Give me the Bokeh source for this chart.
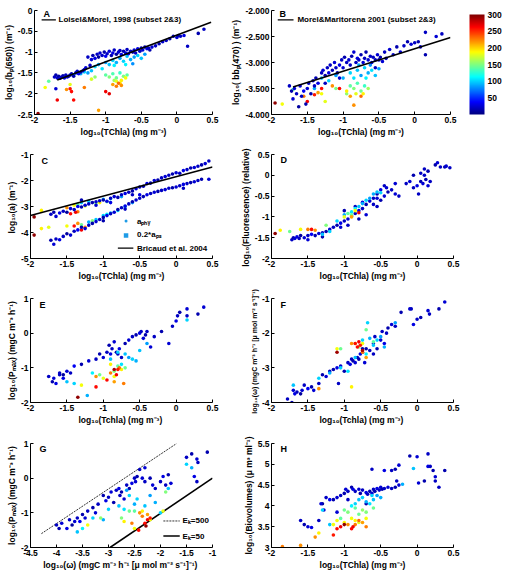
from bokeh.plotting import figure
from bokeh.models import (LinearColorMapper, ColorBar, FixedTicker, Label, ColumnDataSource,
                          Range1d, CustomJSTickFormatter)
from bokeh.layouts import row, column
from bokeh.embed import file_html
from bokeh.resources import INLINE

# ---------------- data ----------------
TCHLA_TICKS = [-2, -1.5, -1, -0.5, 0, 0.5]
CBAR_TICKS = [50, 100, 150, 200, 250, 300]
CBAR_LOW, CBAR_HIGH = 0, 300

# Panel A : log10(bp(650)) vs log10(TChla)
A_blue_x = [-1.72,-1.70,-1.68,-1.66,-1.64,-1.62,-1.60,-1.58,-1.56,-1.54,
            -1.52,-1.50,-1.48,-1.45,-1.42,-1.40,-1.38,-1.35,-1.32,-1.30,
            -1.70,-1.28,-1.22,-1.25,-1.20,-1.18,-1.15,-1.12,-1.10,-1.08,
            -1.05,-1.02,-1.00,-0.98,-0.95,-0.92,-0.90,-0.88,-0.85,-0.82,
            -0.80,-0.78,-0.75,-0.72,-0.70,-0.68,-0.65,-0.62,-0.60,-0.58,
            -0.55,-0.52,-0.50,-0.48,-0.45,-0.42,-0.40,-0.38,-0.35,-0.30,
            -0.25,-0.20,-0.15,-0.10,-0.05,0.00,0.02,0.05,0.10,0.15,
            0.30,0.38]
A_blue_y = [-1.60,-1.55,-1.62,-1.58,-1.63,-1.60,-1.57,-1.62,-1.55,-1.60,
            -1.58,-1.55,-1.52,-1.58,-1.50,-1.46,-1.52,-1.48,-1.45,-1.42,
            -1.88,-1.38,-1.32,-1.12,-1.18,-1.08,-1.15,-1.05,-1.12,-1.02,
            -1.08,-1.00,-1.10,-1.04,-0.98,-1.08,-1.02,-0.95,-1.05,-1.00,
            -0.96,-1.06,-0.98,-1.02,-0.94,-1.04,-0.98,-1.00,-0.95,-1.02,
            -0.92,-0.98,-0.90,-0.95,-0.88,-0.92,-0.90,-0.95,-0.88,-0.85,
            -0.80,-0.75,-0.72,-0.68,-0.62,-0.65,-0.60,-0.62,-0.60,-0.86,
            -0.55,-0.45]
A_blue_c = [20,15,25,10,30,20,15,35,20,25,
            10,30,20,15,25,20,35,15,20,30,
            25,25,20,20,25,15,30,20,10,25,
            20,15,35,20,25,15,30,20,10,25,
            20,30,15,25,20,35,20,15,25,20,
            30,20,15,25,20,30,20,15,25,20,
            15,25,20,15,20,25,15,20,30,20,
            15,20]
A_col_x = [-1.35,-1.30,-1.25,-1.20,-1.15,-1.10,-1.05,-1.00,-0.95,-0.90,
           -0.85,-0.80,-0.75,-0.70,-0.65,-0.60,-0.55,-0.50,-0.62,-0.72,
           -0.45,-0.88,-1.45,
           -1.80,-1.00,-0.95,-0.90,-0.85,-0.80,-0.75,-0.70,-1.15,-0.88,
           -1.85,-1.50,-0.85,-0.78,-0.72,-0.80,-1.20,
           -1.55,-0.90,-0.85,-0.82,-0.78,-1.10,-1.30,
           -1.68,-1.45,-1.50,-1.00,-0.95,-1.48,
           -1.95]
A_col_y = [-1.52,-1.48,-1.50,-1.45,-1.35,-1.30,-1.40,-1.25,-1.30,-1.20,
           -1.25,-1.15,-1.22,-1.10,-1.18,-1.12,-1.08,-1.15,-1.28,-1.30,
           -1.05,-1.32,-1.55,
           -1.70,-1.55,-1.60,-1.52,-1.62,-1.50,-1.58,-1.55,-1.60,-1.68,
           -1.85,-1.78,-1.70,-1.68,-1.62,-1.75,-1.65,
           -1.90,-1.78,-1.82,-1.75,-1.80,-2.40,-1.85,
           -2.15,-2.15,-1.88,-1.95,-2.00,-1.95,
           -2.48]
A_col_c = [90,100,85,95,100,90,105,85,95,100,
           90,85,100,95,90,85,100,95,80,110,
           85,110,80,
           140,140,150,135,145,130,150,140,155,160,
           185,180,180,190,185,195,175,
           220,215,225,230,220,215,225,
           265,260,255,265,270,260,
           295]
A_line_x = [-1.68, 0.48]
A_line_y = [-1.67, -0.28]

# Panel B : log10(bbp(470)) vs log10(TChla)
B_blue_x = [-1.75,-1.72,-1.70,-1.68,-1.65,-1.62,-1.60,-1.58,-1.55,-1.52,
            -1.50,-1.48,-1.45,-1.42,-1.40,-1.38,-1.35,-1.30,-1.28,-1.25,
            -1.22,-1.20,-1.18,-1.15,-1.12,-1.10,-1.08,-1.05,-1.02,-1.00,
            -0.98,-0.95,-0.92,-0.90,-0.88,-0.85,-0.82,-0.80,-0.78,-0.75,
            -0.72,-0.70,-0.68,-0.65,-0.62,-0.60,-0.58,-0.55,-0.52,-0.50,
            -0.48,-0.45,-0.42,-0.40,-0.35,-0.30,-0.25,-0.20,-0.15,-0.10,
            -0.05,0.00,0.05,0.08,0.15,0.15,0.30,0.38,-0.55,-1.05,
            -1.25]
B_blue_y = [-3.45,-3.55,-3.70,-3.50,-3.60,-3.85,-3.45,-3.65,-3.55,-3.80,
            -3.50,-3.40,-3.60,-3.35,-3.45,-3.30,-3.40,-3.20,-3.15,-3.25,
            -3.10,-3.20,-3.05,-3.15,-3.00,-3.10,-3.20,-3.05,-2.95,-3.10,
            -2.90,-3.00,-2.95,-3.05,-2.88,-2.80,-3.00,-2.92,-2.95,-2.85,
            -3.00,-2.92,-2.80,-2.95,-2.88,-3.00,-2.90,-2.95,-2.85,-2.95,
            -2.90,-2.98,-2.80,-2.92,-2.75,-2.85,-2.70,-2.80,-2.68,-2.60,
            -2.65,-2.62,-2.60,-2.70,-2.42,-2.85,-2.50,-2.45,-3.10,-3.30,
            -3.40]
B_blue_c = [20,15,25,30,20,10,25,20,35,15,
            25,20,15,25,20,15,30,20,25,15,
            20,30,20,15,25,20,15,30,20,25,
            15,20,25,20,15,25,20,30,20,15,
            25,20,15,25,20,30,20,15,25,20,
            15,25,20,15,25,20,15,25,20,15,
            25,20,15,25,20,15,25,20,20,25,
            20]
B_col_x = [-1.40,-1.30,-1.20,-1.10,-1.00,-0.90,-0.80,-0.75,-0.70,-0.65,
           -0.60,-0.55,-0.50,-0.68,-0.85,-0.62,-0.78,
           -1.70,-0.90,-0.85,-0.80,-0.75,-0.70,-0.95,-1.10,-0.65,
           -1.85,-1.25,-0.95,-0.82,-1.30,-0.72,
           -0.85,-1.55,-1.35,-0.75,-1.15,-0.90,
           -1.50,-1.05,-1.40,-1.30,
           -1.95]
B_col_y = [-3.50,-3.30,-3.35,-3.25,-3.30,-3.20,-3.15,-3.25,-3.10,-3.20,
           -3.15,-3.25,-3.12,-3.30,-3.30,-3.05,-3.05,
           -3.52,-3.45,-3.50,-3.40,-3.55,-3.45,-3.60,-3.50,-3.50,
           -3.80,-3.75,-3.55,-3.60,-3.60,-3.60,
           -3.82,-3.65,-3.58,-3.65,-3.45,-3.65,
           -3.75,-3.50,-3.62,-3.50,
           -3.78]
B_col_c = [90,95,100,85,90,100,95,85,100,90,
           105,95,85,110,105,80,90,
           140,140,150,135,145,130,155,150,160,
           185,180,190,180,185,190,
           220,225,215,230,220,215,
           265,260,255,260,
           295]
B_line_x = [-1.70, 0.50]
B_line_y = [-3.47, -2.52]

# Panel C : log10(a) vs log10(TChla)   (a_phy band and 0.2*a_ps band)
C_phy_blue_x = [-1.72,-1.68,-1.65,-1.60,-1.55,-1.50,-1.45,-1.40,-1.35,-1.30,
                -1.25,-1.20,-1.15,-1.10,-1.05,-1.00,-0.95,-0.90,-0.85,-0.80,
                -0.75,-0.70,-0.65,-0.60,-0.55,-0.50,-0.45,-0.40,-0.35,-0.30,
                -0.25,-0.20,-0.15,-0.10,-0.05,0.00,0.05,0.10,0.15,0.20,
                0.25,0.30,0.35,0.40,0.45,-0.90,-0.60,-1.30,-1.10]
C_phy_blue_y = [-3.30,-3.22,-3.38,-3.25,-3.18,-3.22,-3.08,-3.12,-3.00,-3.02,
                -2.95,-2.90,-2.85,-2.82,-2.78,-2.75,-2.80,-2.68,-2.62,-2.65,
                -2.55,-2.50,-2.45,-2.40,-2.32,-2.25,-2.22,-2.12,-2.10,-2.00,
                -1.98,-1.90,-1.85,-1.80,-1.75,-1.70,-1.72,-1.62,-1.58,-1.52,
                -1.50,-1.45,-1.40,-1.35,-1.25,-2.85,-2.55,-2.75,-2.95]
C_phy_blue_c = [20,15,25,30,20,10,25,20,35,15,
                25,20,15,25,20,15,30,20,25,15,
                20,30,20,15,25,20,15,30,20,25,
                15,20,25,20,15,25,20,30,20,15,
                25,20,15,25,20,30,20,15,25]
C_phy_col_x = [-1.30,-1.20,-1.00,-0.90,-0.75,
               -1.35,-1.10,-0.95,
               -1.85,-1.40,-1.25,-1.05,
               -1.50,-1.35,
               -1.45,-1.38,
               -1.95]
C_phy_col_y = [-2.85,-2.80,-2.72,-2.70,-2.62,
               -2.92,-2.88,-2.82,
               -3.15,-2.95,-2.98,-2.85,
               -3.05,-3.20,
               -3.28,-3.22,
               -3.40]
C_phy_col_c = [95,100,90,105,85,
               140,150,145,
               190,185,180,190,
               220,225,
               260,265,
               295]
C_aps_blue_x = [-1.72,-1.68,-1.65,-1.60,-1.55,-1.50,-1.45,-1.40,-1.35,-1.30,
                -1.25,-1.20,-1.15,-1.10,-1.05,-1.00,-0.95,-0.90,-0.85,-0.80,
                -0.75,-0.70,-0.65,-0.60,-0.55,-0.50,-0.45,-0.40,-0.35,-0.30,
                -0.25,-0.20,-0.15,-0.10,-0.05,0.00,0.05,0.10,0.15,0.20,
                0.25,0.30,0.35,0.45,0.10,-0.50,-0.70,-1.00]
C_aps_blue_y = [-4.30,-4.45,-4.25,-4.28,-4.15,-4.05,-4.10,-3.95,-3.90,-3.80,
                -3.85,-3.72,-3.65,-3.58,-3.50,-3.42,-3.35,-3.28,-3.22,-3.12,
                -3.05,-2.98,-2.90,-2.82,-2.75,-2.68,-2.62,-2.55,-2.50,-2.45,
                -2.42,-2.38,-2.35,-2.30,-2.28,-2.25,-2.20,-2.15,-2.12,-2.08,
                -2.05,-2.00,-1.95,-1.95,-2.30,-2.55,-3.10,-3.55]
C_aps_blue_c = [15,25,20,30,20,10,25,20,35,15,
                25,20,15,25,20,15,30,20,25,15,
                20,30,20,15,25,20,15,30,20,25,
                15,20,25,20,15,25,20,30,20,15,
                25,20,15,25,20,30,20,15]
C_aps_col_x = [-1.10,-1.00,-0.90,-0.80,-0.70,-0.60,-0.95,-1.20,
               -1.30,-1.15,
               -1.85,-1.50,-1.75,
               -1.35,-1.25,
               -1.40,-1.30,
               -1.95]
C_aps_col_y = [-3.50,-3.35,-3.25,-3.15,-3.00,-2.85,-3.30,-3.60,
               -3.70,-3.55,
               -3.85,-3.75,-3.80,
               -3.65,-3.80,
               -3.75,-3.90,
               -4.10]
C_aps_col_c = [95,100,90,105,95,85,110,90,
               145,150,
               190,185,180,
               220,225,
               260,265,
               295]
C_line_x = [-2.00, 0.50]
C_line_y = [-3.35, -1.48]

# Panel D : log10(Fluorescence) vs log10(TChla)
D_blue_x = [-1.72,-1.70,-1.68,-1.65,-1.62,-1.60,-1.55,-1.50,-1.45,-1.40,
            -1.35,-1.30,-1.25,-1.20,-1.15,-1.10,-1.05,-1.00,-0.95,-0.90,
            -0.85,-0.80,-0.75,-0.70,-0.65,-0.60,-0.55,-0.50,-0.45,-0.42,
            -0.40,-0.35,-0.30,-0.25,-0.50,-0.55,-0.60,-0.75,-0.85,-1.00,
            -1.05,-0.95,-0.80,-0.70,-0.05,0.00,0.02,0.05,0.08,0.10,
            0.12,0.15,0.18,-0.05,-0.10,0.05,0.25,0.28,0.32,0.38,
            0.40,0.45,0.15,-0.45,-0.55,-1.30,-1.50,0.10,-0.15,-0.30]
D_blue_y = [-1.55,-1.50,-1.52,-1.48,-1.52,-1.45,-1.50,-1.45,-1.42,-1.45,
            -1.40,-1.38,-1.35,-1.30,-1.25,-1.20,-1.15,-1.10,-1.05,-0.98,
            -0.92,-0.85,-0.80,-0.70,-0.62,-0.55,-0.45,-0.35,-0.25,-0.30,
            -0.40,-0.35,-0.45,-0.50,-0.60,-0.55,-0.70,-0.65,-0.75,-0.85,
            -1.25,-1.20,-1.05,-0.95,-0.30,-0.25,-0.45,-0.15,-0.20,0.15,
            -0.10,-0.25,-0.15,0.00,-0.15,0.05,0.25,0.30,0.20,0.20,
            0.22,0.18,0.10,-0.50,-0.75,-1.48,-1.55,0.00,-0.20,-0.20]
D_blue_c = [20,15,25,30,20,10,25,20,35,15,
            25,20,15,25,20,15,30,20,25,15,
            20,30,20,15,25,20,15,30,20,25,
            15,20,25,20,15,25,20,30,20,15,
            25,20,15,25,20,30,20,15,25,20,
            15,25,20,15,25,20,15,25,20,15,
            25,20,15,25,20,15,25,20,20,25]
D_col_x = [-1.30,-1.20,-1.00,-0.90,-0.80,-0.70,-0.65,-0.60,-0.55,-0.50,-0.85,-1.10,-0.75,
           -1.75,-1.25,-0.95,-0.90,
           -1.88,-1.60,-1.00,-0.85,
           -1.50,-1.40,-0.90,
           -1.45,-0.80,
           -1.95]
D_col_y = [-1.42,-1.35,-0.95,-0.88,-0.75,-0.60,-0.55,-0.45,-0.40,-0.42,-0.80,-1.10,-0.68,
           -1.35,-1.20,-0.92,-0.95,
           -1.32,-1.30,-1.00,-0.85,
           -1.30,-1.32,-1.00,
           -1.30,-0.90,
           -1.40]
D_col_c = [95,100,90,105,95,100,85,90,95,100,110,100,90,
           145,150,140,145,
           190,185,180,190,
           225,220,215,
           260,265,
           295]

# Panel E : log10(Pmax) vs log10(TChla)
E_blue_x = [-1.75,-1.70,-1.68,-1.65,-1.60,-1.55,-1.50,-1.45,-1.40,-1.30,
            -1.20,-1.10,-1.05,-1.00,-0.95,-0.92,-0.90,-0.88,-0.85,-0.82,
            -0.80,-0.78,-0.75,-0.70,-0.65,-0.60,-0.55,-0.50,-0.48,-0.45,
            -0.42,-0.40,-0.35,-0.30,-0.20,-0.10,-0.05,0.00,0.02,0.05,
            0.15,0.15,0.30,0.38,-1.60,-1.55]
E_blue_y = [-1.25,-1.40,-1.30,-1.45,-1.15,-1.20,-1.10,-1.15,-0.95,-0.90,
            -0.80,-0.75,-0.60,-0.70,-0.55,-0.35,-0.60,-0.45,-0.25,-0.55,
            -0.60,-0.45,-0.70,-0.30,-0.20,-0.10,-0.05,0.00,0.05,-0.15,
            -0.05,0.05,-0.40,-0.10,0.05,-0.30,0.20,0.35,0.50,0.60,
            0.70,0.50,0.55,0.75,-1.20,-1.30]
E_blue_c = [20,15,25,30,20,10,25,20,35,15,
            25,20,15,25,20,15,30,20,25,15,
            20,30,20,15,25,20,15,30,20,25,
            15,20,25,20,15,25,20,30,20,15,
            25,20,15,25,20,30]
E_col_x = [-1.50,-1.40,-1.22,-0.80,-0.70,-0.65,-0.60,-0.55,-0.75,-0.50,0.15,-1.15,-0.90,-0.40,
           -1.05,-0.85,-0.80,-0.70,
           -1.30,-0.90,-0.85,-1.00,-0.75,
           -1.10,-0.90,-0.85,-0.72,-0.78,
           -1.10,-0.82,-0.95,-0.80,
           -1.35,-0.85]
E_col_y = [-1.40,-1.45,-1.80,-0.55,-0.60,-0.70,-0.75,-0.80,-0.90,-0.50,0.38,-1.15,-0.75,-0.30,
           -1.20,-1.10,-0.95,-1.00,
           -1.50,-0.90,-1.25,-1.30,-1.05,
           -1.25,-1.15,-1.40,-1.45,-1.00,
           -1.55,-1.20,-1.35,-1.05,
           -1.85,-1.05]
E_col_c = [95,100,90,100,95,85,100,90,105,95,100,110,95,85,
           145,150,140,145,
           185,190,185,180,190,
           220,225,215,225,230,
           260,265,260,255,
           295,285]

# Panel F : log10(omega) vs log10(TChla)
F_blue_x = [-1.78,-1.72,-1.70,-1.68,-1.65,-1.60,-1.58,-1.55,-1.50,-1.45,
            -1.42,-1.35,-1.30,-1.25,-1.20,-1.15,-1.10,-1.08,-1.05,-1.00,
            -0.95,-0.92,-0.90,-0.88,-0.85,-0.82,-0.80,-0.78,-0.75,-0.72,
            -0.70,-0.65,-0.60,-0.58,-0.55,-0.50,-0.48,-0.45,-0.42,-0.40,
            -0.35,-0.30,-0.22,-0.10,-0.08,-0.05,0.00,0.05,0.15,0.17,
            0.30,0.38,-0.60,-0.75]
F_blue_y = [-3.90,-4.00,-3.65,-3.75,-3.70,-3.75,-3.65,-3.50,-3.60,-3.55,
            -3.65,-3.45,-3.20,-3.25,-3.10,-3.05,-3.00,-3.45,-2.95,-3.10,
            -2.85,-2.90,-2.75,-2.80,-2.85,-2.70,-2.75,-2.60,-2.55,-2.85,
            -2.45,-2.50,-2.30,-2.10,-2.45,-2.20,-1.95,-2.30,-2.00,-1.85,
            -1.75,-1.80,-1.40,-1.30,-1.30,-1.75,-1.60,-1.55,-1.35,-1.45,
            -1.30,-1.10,-2.60,-2.45]
F_blue_c = [20,15,25,30,20,10,25,20,35,15,
            25,20,15,25,20,15,30,20,25,15,
            20,30,20,15,25,20,15,30,20,25,
            15,20,25,20,15,25,20,30,20,15,
            25,20,15,25,20,30,20,15,25,20,
            15,25,20,15]
F_col_x = [-1.70,-1.35,-1.20,-1.05,-0.95,-0.85,-0.68,-0.65,-0.60,-0.55,-0.50,-0.70,-0.45,-0.75,-0.30,
           -0.70,-0.80,-0.60,-1.05,
           -0.90,-1.10,-0.85,-0.75,
           -0.90,-0.75,-0.70,-1.35,
           -0.85,-0.80,-0.78,-0.82,
           -1.10,-0.75]
F_col_y = [-3.50,-3.30,-3.15,-3.00,-3.10,-2.70,-1.70,-2.15,-2.35,-2.20,-2.10,-2.60,-2.40,-2.20,-1.70,
           -1.90,-2.40,-2.25,-2.45,
           -3.55,-2.45,-2.30,-2.30,
           -2.30,-2.55,-2.70,-3.60,
           -2.30,-2.25,-2.35,-2.40,
           -2.55,-2.50]
F_col_c = [95,100,90,100,105,95,100,90,95,100,85,110,90,100,85,
           145,150,140,145,
           190,185,190,185,
           220,225,215,220,
           260,265,255,260,
           290,285]

# Panel G : log10(Pmax) vs log10(omega)
G_blue_x = [-4.00,-3.95,-3.90,-3.80,-3.75,-3.70,-3.65,-3.60,-3.55,-3.50,
            -3.45,-3.40,-3.30,-3.25,-3.20,-3.10,-3.05,-3.00,-2.95,-2.90,
            -2.85,-2.80,-2.78,-2.75,-2.70,-2.65,-2.60,-2.55,-2.50,-2.48,
            -2.45,-2.40,-2.35,-2.30,-2.20,-2.15,-2.10,-1.95,-1.90,-1.85,
            -1.80,-1.50,-1.40,-1.30,-1.28,-1.35,-1.30,-1.10,-2.30,-2.00]
G_blue_y = [-1.35,-1.45,-1.30,-1.45,-1.20,-1.35,-1.25,-1.15,-1.25,-1.05,
            -1.15,-0.95,-0.85,-1.00,-0.75,-0.50,-0.65,-0.55,-0.40,-0.70,
            -0.35,-0.30,-0.50,-0.40,-0.60,-0.20,-0.30,-0.15,0.00,-0.10,
            0.05,0.25,0.00,-0.10,0.00,-0.20,-0.30,0.05,-0.20,0.10,
            -0.15,0.60,0.70,0.55,0.45,0.05,-0.10,0.75,0.30,-0.10]
G_blue_c = [20,15,25,30,20,10,25,20,35,15,
            25,20,15,25,20,15,30,20,25,15,
            20,30,20,15,25,20,15,30,20,25,
            15,20,25,20,15,25,20,30,20,15,
            25,20,15,25,20,30,20,15,25,20]
G_col_x = [-3.60,-3.30,-3.10,-3.00,-2.80,-2.70,-2.50,-2.45,-2.30,-2.20,-2.60,-1.50,-1.40,-1.85,-2.00,-2.10,-3.50,-2.65,
           -2.60,-2.75,-2.50,-3.15,-1.90,
           -2.70,-2.50,-2.35,-3.40,-1.95,-2.20,
           -2.40,-2.35,-2.25,-2.55,
           -2.30,-2.25,-2.42,-2.20,
           -2.28]
G_col_y = [-1.55,-1.15,-1.20,-0.90,-0.80,-0.90,-0.75,-0.60,-0.80,-0.50,-0.50,0.40,0.30,-0.30,-1.00,-0.70,-1.45,-0.35,
           -0.95,-1.15,-0.95,-1.15,-0.40,
           -1.25,-1.45,-0.95,-1.35,-0.95,-1.20,
           -1.00,-1.10,-1.05,-1.30,
           -1.30,-1.20,-1.50,-1.15,
           -1.38]
G_col_c = [95,100,90,100,95,105,90,100,95,85,100,100,90,95,100,90,110,85,
           145,150,140,155,150,
           190,185,190,185,180,185,
           220,225,215,225,
           260,265,260,255,
           295]
G_ek500_x = [-4.29, -1.69]
G_ek500_y = [-1.60, 1.00]
G_ek50_x = [-2.97, -1.00]
G_ek50_y = [-2.00, 0.00]

# Panel H : log10(Biovolumes) vs log10(TChla)
H_blue_x = [-1.60,-1.55,-1.50,-1.45,-1.35,-1.30,-1.28,-1.25,-1.20,-1.15,
            -1.10,-1.05,-1.00,-0.98,-0.95,-0.90,-0.88,-0.85,-0.80,-0.78,
            -0.75,-0.70,-0.68,-0.65,-0.62,-0.60,-0.58,-0.55,-0.52,-0.50,
            -0.48,-0.45,-0.40,-0.35,-0.30,-0.25,-0.62,-0.45,-0.35,-0.30,
            -0.25,-0.28,-0.10,0.00,0.15,0.15,0.18,0.22,0.25,0.25,
            0.10,0.02,0.30,0.38,-1.10,-0.95,-0.70,-1.32]
H_blue_y = [3.65,3.55,3.50,3.48,3.65,4.05,3.90,4.20,4.15,4.15,
            4.20,4.25,4.30,4.40,4.35,4.45,4.40,4.35,4.40,4.30,
            4.38,4.32,4.28,4.35,4.30,4.40,4.35,4.42,4.38,4.45,
            4.40,4.42,4.45,4.42,4.45,4.50,4.88,4.85,4.85,4.88,
            4.98,4.60,5.20,5.18,5.25,4.95,4.95,4.85,4.70,4.60,
            4.60,4.55,4.45,4.85,3.85,4.15,4.05,4.05]
H_blue_c = [20,15,25,30,20,10,25,20,35,15,
            25,20,15,25,20,15,30,20,25,15,
            20,30,20,15,25,20,15,30,20,25,
            15,20,25,20,15,25,20,30,20,15,
            25,20,15,25,20,30,20,15,25,20,
            15,25,20,15,25,20,15,25]
H_col_x = [-0.05,-0.20,-1.30,-0.80,-0.75,-0.70,-0.65,-0.60,-0.55,-0.50,-0.85,-1.20,-0.90,-0.62,
           -1.00,-0.95,-0.85,-0.80,-0.75,-0.70,-1.05,-0.60,
           -1.10,-1.00,-0.90,-0.85,-0.80,-0.70,-1.35,-1.15,
           -0.95,-0.85,-0.75,-0.70,-1.40,-1.85,-1.60,-0.80,
           -1.10,-1.05,-0.90,-1.15,-0.88,
           -1.00]
H_col_y = [4.90,4.52,3.90,4.15,4.20,4.10,4.05,4.15,4.25,4.20,4.05,3.55,4.00,4.25,
           3.90,3.85,3.95,3.80,3.90,3.85,3.70,3.95,
           3.65,3.60,3.70,3.65,3.60,3.70,3.35,3.55,
           3.55,3.55,3.60,3.50,3.25,3.02,3.05,3.65,
           3.45,3.50,3.45,3.30,3.50,
           3.55]
H_col_c = [95,90,100,95,100,90,105,95,85,90,100,95,110,100,
           145,150,140,145,155,150,140,145,
           185,190,185,190,180,185,190,185,
           220,225,215,225,220,225,220,230,
           260,265,260,255,265,
           295]

# ---------------- styling helpers ----------------
FONT = "Liberation Sans"
TICK_FS = "8.5px"
LAB_FS = "8.5px"


def jet_palette(n=256):
    cols = []
    for i in range(n):
        v = i / (n - 1)
        r = min(max(1.5 - abs(4 * v - 3), 0.0), 1.0)
        g = min(max(1.5 - abs(4 * v - 2), 0.0), 1.0)
        b = min(max(1.5 - abs(4 * v - 1), 0.0), 1.0)
        cols.append("#%02x%02x%02x" % (int(r * 255), int(g * 255), int(b * 255)))
    return cols


mapper = LinearColorMapper(palette=jet_palette(), low=CBAR_LOW, high=CBAR_HIGH)


def plain_fmt():
    return CustomJSTickFormatter(code="return String(Math.round(tick*1000)/1000);")


def make_panel(w, h, bl, br, bt, bb, xr, yr, xt, yt, xlab, ylab, yfmt=None):
    p = figure(width=w, height=h, x_range=Range1d(*xr), y_range=Range1d(*yr),
               output_backend="svg", toolbar_location=None,
               min_border_left=bl, min_border_right=br,
               min_border_top=bt, min_border_bottom=bb)
    p.outline_line_color = None
    p.xgrid.visible = False
    p.ygrid.visible = False
    p.background_fill_color = "white"
    p.border_fill_color = "white"
    p.xaxis.ticker = FixedTicker(ticks=xt)
    p.yaxis.ticker = FixedTicker(ticks=yt)
    p.xaxis.formatter = plain_fmt()
    p.yaxis.formatter = yfmt if yfmt is not None else plain_fmt()
    p.xaxis.axis_label = xlab
    p.yaxis.axis_label = ylab
    for ax in (p.xaxis[0], p.yaxis[0]):
        ax.major_tick_in = 3
        ax.major_tick_out = 0
        ax.minor_tick_line_color = None
        ax.axis_line_color = "black"
        ax.major_tick_line_color = "black"
        ax.major_label_text_font = FONT
        ax.major_label_text_font_size = TICK_FS
        ax.major_label_text_font_style = "bold"
        ax.major_label_text_color = "black"
        ax.axis_label_text_font = FONT
        ax.axis_label_text_font_size = LAB_FS
        ax.axis_label_text_font_style = "bold"
        ax.axis_label_text_color = "black"
        ax.major_label_standoff = 2
        ax.axis_label_standoff = 1
    return p


def check(*arrs):
    n = len(arrs[0])
    for a in arrs:
        if len(a) != n:
            raise ValueError("length mismatch: %s" % [len(b) for b in arrs])


def add_points(p, xs, ys, cs, size=3.6):
    check(xs, ys, cs)
    src = ColumnDataSource(dict(x=xs, y=ys, c=cs))
    p.scatter("x", "y", source=src, size=size, marker="circle",
              fill_color={"field": "c", "transform": mapper}, line_color=None)


def fx(p, f):
    return p.x_range.start + f * (p.x_range.end - p.x_range.start)


def fy(p, f):
    return p.y_range.start + f * (p.y_range.end - p.y_range.start)


def add_text(p, fxv, fyv, text, size="8px", align="left"):
    p.add_layout(Label(x=fx(p, fxv), y=fy(p, fyv), text=text, text_font=FONT,
                       text_font_size=size, text_font_style="bold", text_color="black",
                       text_baseline="middle", text_align=align))


def add_letter(p, fxv, fyv, letter):
    add_text(p, fxv, fyv, letter, size="9px")


# ---------------- layout geometry (page has no body margin) ----------------
LW, RW = 222, 282
LBL, LBR = 30, 10
RBL, RBR = 49, 51
ROW_H = [147, 138, 151, 136]
ROW_BT = [10, 7, 13, 7]
ROW_BB = [33, 27, 34, 25]

X_TCHLA = "log₁₀(TChla) (mg m⁻³)"
X_TCHLA2 = "log₁₀(Tchla)  (mg m⁻³)"
OMEGA_LAB = "log₁₀(ω)  (mgC m⁻³ h⁻¹ [μ mol m⁻² s⁻¹]⁻¹)"

# A
pA = make_panel(LW, ROW_H[0], LBL, LBR, ROW_BT[0], ROW_BB[0], (-2, 0.5), (-2.5, 0),
                TCHLA_TICKS, [-2.5, -2, -1.5, -1, -0.5, 0], X_TCHLA,
                "log₁₀(bₚ(650)) (m⁻¹)")
add_points(pA, A_col_x, A_col_y, A_col_c)
add_points(pA, A_blue_x, A_blue_y, A_blue_c)
pA.line(A_line_x, A_line_y, line_color="black", line_width=1.6)
pA.line([fx(pA, 0.04), fx(pA, 0.12)], [fy(pA, 0.91)] * 2, line_color="black", line_width=1.4)
add_letter(pA, 0.05, 0.965, "A")
add_text(pA, 0.135, 0.91, "Loisel&Morel, 1998 (subset 2&3)")

# B
pB = make_panel(RW, ROW_H[0], RBL, RBR, ROW_BT[0], ROW_BB[0], (-2, 0.5), (-4, -2),
                TCHLA_TICKS, [-4, -3.5, -3, -2.5, -2], X_TCHLA,
                "log₁₀( bbₚ(470) ) (m⁻¹)",
                yfmt=CustomJSTickFormatter(code="return tick.toFixed(3);"))
add_points(pB, B_col_x, B_col_y, B_col_c)
add_points(pB, B_blue_x, B_blue_y, B_blue_c)
pB.line(B_line_x, B_line_y, line_color="black", line_width=1.6)
pB.line([fx(pB, 0.035), fx(pB, 0.123)], [fy(pB, 0.91)] * 2, line_color="black", line_width=1.4)
add_letter(pB, 0.045, 0.965, "B")
add_text(pB, 0.145, 0.91, "Morel&Maritorena 2001 (subset 2&3)")
cb = ColorBar(color_mapper=mapper, ticker=FixedTicker(ticks=CBAR_TICKS), width=15, height=100,
              location=(19, 0), padding=0, margin=0, label_standoff=3,
              major_tick_line_color=None,
              bar_line_color=None, border_line_color=None, background_fill_color=None,
              major_label_text_font=FONT, major_label_text_font_size=TICK_FS,
              major_label_text_font_style="bold", major_label_text_color="black")
pB.add_layout(cb, "right")

# C
pC = make_panel(LW, ROW_H[1], LBL, LBR, ROW_BT[1], ROW_BB[1], (-2, 0.5), (-5, -1),
                TCHLA_TICKS, [-5, -4, -3, -2, -1], X_TCHLA, "log₁₀(a)  (m⁻¹)")
add_points(pC, C_phy_col_x, C_phy_col_y, C_phy_col_c)
add_points(pC, C_aps_col_x, C_aps_col_y, C_aps_col_c)
add_points(pC, C_phy_blue_x, C_phy_blue_y, C_phy_blue_c)
add_points(pC, C_aps_blue_x, C_aps_blue_y, C_aps_blue_c)
pC.line(C_line_x, C_line_y, line_color="black", line_width=1.6)
add_letter(pC, 0.06, 0.94, "C")
pC.scatter([fx(pC, 0.525)], [fy(pC, 0.36)], size=3, marker="circle", fill_color="#1e9be6", line_color=None)
pC.scatter([fx(pC, 0.525)], [fy(pC, 0.22)], size=4.5, marker="square", fill_color="#1e9be6", line_color=None)
add_text(pC, 0.585, 0.36, "aₚₕᵧ")
add_text(pC, 0.585, 0.23, "0.2*aₚₛ")
pC.line([fx(pC, 0.48), fx(pC, 0.565)], [fy(pC, 0.1)] * 2, line_color="black", line_width=1.4)
add_text(pC, 0.585, 0.1, "Bricaud et al. 2004")

# D
pD = make_panel(RW, ROW_H[1], RBL, RBR, ROW_BT[1], ROW_BB[1], (-2, 0.5), (-2, 0.5),
                TCHLA_TICKS, [-2, -1.5, -1, -0.5, 0, 0.5], X_TCHLA,
                "log₁₀(Fluorescence)  (relative)")
add_points(pD, D_blue_x, D_blue_y, D_blue_c)
add_points(pD, D_col_x, D_col_y, D_col_c)
add_letter(pD, 0.05, 0.95, "D")

# E
pE = make_panel(LW, ROW_H[2], LBL, LBR, ROW_BT[2], ROW_BB[2], (-2, 0.5), (-2, 1),
                TCHLA_TICKS, [-2, -1, 0, 1], X_TCHLA2, "log₁₀(Pₘₐₓ) (mgC m⁻³ h⁻¹)")
add_points(pE, E_blue_x, E_blue_y, E_blue_c)
add_points(pE, E_col_x, E_col_y, E_col_c)
add_letter(pE, 0.05, 0.935, "E")

# F
pF = make_panel(RW, ROW_H[2], RBL, RBR, ROW_BT[2], ROW_BB[2], (-2, 0.5), (-4, -1),
                TCHLA_TICKS, [-4, -3, -2, -1], X_TCHLA2, OMEGA_LAB)
pF.yaxis.axis_label_text_font_size = "7px"
add_points(pF, F_blue_x, F_blue_y, F_blue_c)
add_points(pF, F_col_x, F_col_y, F_col_c)
add_letter(pF, 0.05, 0.94, "F")

# G
pG = make_panel(LW, ROW_H[3], LBL, LBR, ROW_BT[3], ROW_BB[3], (-4.5, -1), (-2, 1),
                [-4.5, -4, -3.5, -3, -2.5, -2, -1.5, -1], [-2, -1, 0, 1], OMEGA_LAB,
                "log₁₀(Pₘₐₓ) (mgC m⁻³ h⁻¹)")
pG.line(G_ek500_x, G_ek500_y, line_color="#333333", line_width=1, line_dash="2 1")
pG.line(G_ek50_x, G_ek50_y, line_color="black", line_width=1.6)
add_points(pG, G_blue_x, G_blue_y, G_blue_c)
add_points(pG, G_col_x, G_col_y, G_col_c)
add_letter(pG, 0.05, 0.95, "G")
pG.line([fx(pG, 0.73), fx(pG, 0.82)], [fy(pG, 0.255)] * 2, line_color="#333333", line_width=1, line_dash="2 1")
add_text(pG, 0.835, 0.255, "Eₖ=500")
pG.line([fx(pG, 0.73), fx(pG, 0.82)], [fy(pG, 0.11)] * 2, line_color="black", line_width=1.4)
add_text(pG, 0.835, 0.11, "Eₖ=50")

# H
pH = make_panel(RW, ROW_H[3], RBL, RBR, ROW_BT[3], ROW_BB[3], (-2, 0.5), (3, 5.5),
                TCHLA_TICKS, [3, 3.5, 4, 4.5, 5, 5.5], X_TCHLA,
                "log₁₀(Biovolumes) (μ m³ ml⁻¹)")
add_points(pH, H_blue_x, H_blue_y, H_blue_c)
add_points(pH, H_col_x, H_col_y, H_col_c)
add_letter(pH, 0.05, 0.95, "H")

layout = column(row(pA, pB), row(pC, pD), row(pE, pF), row(pG, pH))

with open("out.html", "w") as f:
    f.write(file_html(layout, INLINE))
